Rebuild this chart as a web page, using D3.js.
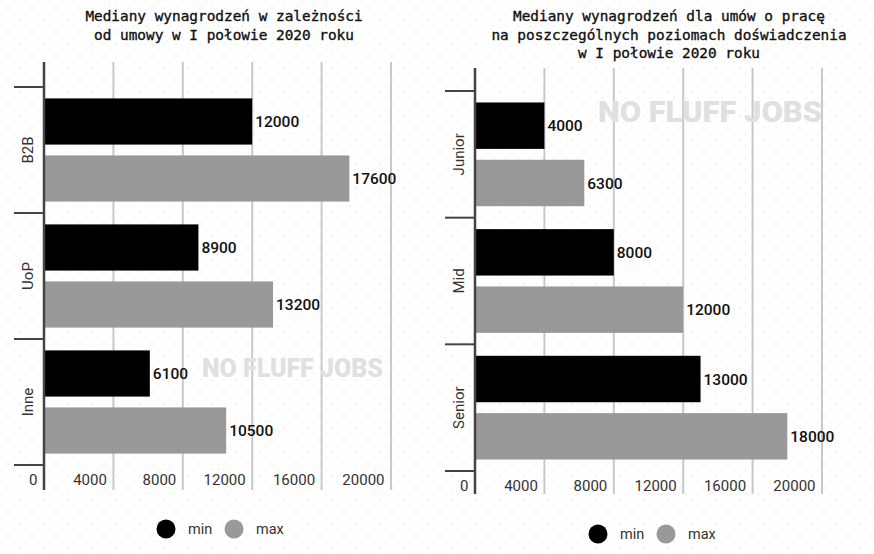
<!DOCTYPE html>
<html>
<head>
<meta charset="utf-8">
<script src="https://cdn.jsdelivr.net/npm/d3@7"></script>
<style>
  body { margin: 0; background: #fff; }
  svg { display: block; }
</style>
</head>
<body>
<svg id="chart" width="874" height="554"></svg>
<script>
const series = ["min", "max"];
const seriesColors = ["#000000", "#999999"];

const contractCategories = ["B2B", "UoP", "Inne"];
const contractMin = [12000, 8900, 6100];
const contractMax = [17600, 13200, 10500];

const levelCategories = ["Junior", "Mid", "Senior"];
const levelMin = [4000, 8000, 13000];
const levelMax = [6300, 12000, 18000];

const xTicks = [0, 4000, 8000, 12000, 16000, 20000];

const svg = d3.select("#chart");

// faint dotted background
const defs = svg.append("defs");
const pat = defs
  .append("pattern")
  .attr("id", "dots")
  .attr("width", 12)
  .attr("height", 12)
  .attr("patternUnits", "userSpaceOnUse");
pat.append("circle").attr("cx", 2).attr("cy", 2).attr("r", 1).attr("fill", "#f0f0f0");
pat.append("circle").attr("cx", 8).attr("cy", 8).attr("r", 1).attr("fill", "#f0f0f0");
svg.append("rect").attr("width", 874).attr("height", 554).attr("fill", "url(#dots)");

function drawChart(cfg) {
  const g = svg.append("g");
  const rows = cfg.categories.map((c, i) => ({
    cat: c,
    vals: [cfg.min[i], cfg.max[i]],
  }));

  const x = d3.scaleLinear().domain([0, 20000]).range([cfg.x0, cfg.x1]);
  const y = d3.scaleBand().domain(cfg.categories).range([cfg.yTop, cfg.yBottom]);
  const ySub = d3
    .scaleBand()
    .domain(series)
    .range([0, y.bandwidth()])
    .paddingInner(0.19)
    .paddingOuter(0.2);

  // title
  g.append("text")
    .attr("text-anchor", "middle")
    .attr("font-family", "DejaVu Sans Mono, monospace")
    .attr("font-size", 14.4)
    .attr("fill", "#111")
    .attr("stroke", "#111")
    .attr("stroke-width", 0.35)
    .selectAll("tspan")
    .data(cfg.title)
    .enter()
    .append("tspan")
    .attr("x", cfg.titleX)
    .attr("y", (d, i) => cfg.titleY + i * 18.5)
    .text((d) => d);

  // gridlines
  g.append("g")
    .selectAll("line")
    .data(xTicks.slice(1))
    .enter()
    .append("line")
    .attr("x1", (d) => x(d))
    .attr("x2", (d) => x(d))
    .attr("y1", cfg.gridTop)
    .attr("y2", cfg.gridBottom)
    .attr("stroke", "#c8c8c8")
    .attr("stroke-width", 2);

  // watermark
  g.append("text")
    .attr("x", cfg.wmX)
    .attr("y", cfg.wmY)
    .attr("font-family", "Roboto, sans-serif")
    .attr("font-weight", 900)
    .attr("font-size", cfg.wmSize)
    .attr("fill", "#e0e0e0")
    .attr("textLength", cfg.wmLen)
    .attr("lengthAdjust", "spacingAndGlyphs")
    .text("NO FLUFF JOBS");

  // bars
  const grp = g
    .append("g")
    .selectAll("g")
    .data(rows)
    .enter()
    .append("g")
    .attr("transform", (d) => `translate(0,${y(d.cat)})`);

  grp
    .selectAll("rect")
    .data((d) => d.vals.map((v, i) => ({ key: series[i], v })))
    .enter()
    .append("rect")
    .attr("x", x(0))
    .attr("y", (d) => ySub(d.key))
    .attr("width", (d) => x(d.v) - x(0))
    .attr("height", ySub.bandwidth())
    .attr("fill", (d, i) => seriesColors[i]);

  grp
    .selectAll("text")
    .data((d) => d.vals.map((v, i) => ({ key: series[i], v })))
    .enter()
    .append("text")
    .attr("x", (d) => x(d.v) + 3)
    .attr("y", (d) => ySub(d.key) + ySub.bandwidth() / 2)
    .attr("dy", "0.36em")
    .attr("font-family", "Roboto, sans-serif")
    .attr("font-weight", 500)
    .attr("font-size", 15.5)
    .attr("fill", "#111")
    .text((d) => d.v);

  // x axis labels
  const xAxis = g
    .append("g")
    .attr("transform", `translate(0,${cfg.yBottom})`)
    .call(d3.axisBottom(x).tickValues(xTicks).tickSize(0).tickFormat(d3.format("d")));
  xAxis.select(".domain").remove();
  xAxis
    .selectAll("text")
    .attr("text-anchor", "end")
    .attr("x", -7)
    .attr("y", cfg.tickDy)
    .attr("dy", 0)
    .attr("font-family", "Roboto, sans-serif")
    .attr("font-size", 15)
    .attr("fill", "#333");

  // category axis
  const yAxis = g
    .append("g")
    .attr("transform", `translate(${x(0)},0)`)
    .call(d3.axisLeft(y).tickSize(0).tickFormat(""));
  yAxis.select(".domain").remove();

  const bounds = cfg.categories.map((c) => y(c)).concat([cfg.yBottom]);
  g.append("g")
    .selectAll("line")
    .data(bounds)
    .enter()
    .append("line")
    .attr("x1", x(0) - 30)
    .attr("x2", x(0))
    .attr("y1", (d) => d)
    .attr("y2", (d) => d)
    .attr("stroke", "#444")
    .attr("stroke-width", 2);

  g.append("line")
    .attr("x1", x(0))
    .attr("x2", x(0))
    .attr("y1", cfg.gridTop)
    .attr("y2", cfg.gridBottom)
    .attr("stroke", "#444")
    .attr("stroke-width", 2.5);

  g.append("g")
    .selectAll("text")
    .data(cfg.categories)
    .enter()
    .append("text")
    .attr("transform", (d) => `translate(${x(0) - 11},${y(d) + y.bandwidth() / 2}) rotate(-90)`)
    .attr("text-anchor", "middle")
    .attr("font-family", "Roboto, sans-serif")
    .attr("font-size", 15)
    .attr("fill", "#333")
    .text((d) => d);

  // legend
  const leg = g
    .append("g")
    .selectAll("g")
    .data(series)
    .enter()
    .append("g")
    .attr("transform", (d, i) => `translate(${cfg.legX + i * 68},${cfg.legY})`);
  leg.append("circle").attr("r", 9.5).attr("fill", (d, i) => seriesColors[i]);
  leg
    .append("text")
    .attr("x", 22)
    .attr("dy", "0.35em")
    .attr("font-family", "Roboto, sans-serif")
    .attr("font-size", 14.5)
    .attr("fill", "#333")
    .text((d) => d);
}

drawChart({
  title: ["Mediany wynagrodzeń w zależności", "od umowy w I połowie 2020 roku"],
  titleX: 224,
  titleY: 21,
  categories: contractCategories,
  min: contractMin,
  max: contractMax,
  x0: 44,
  x1: 391,
  yTop: 87,
  yBottom: 465,
  gridTop: 62,
  gridBottom: 490,
  tickDy: 20,
  wmX: 202,
  wmY: 377,
  wmSize: 25,
  wmLen: 181,
  legX: 166,
  legY: 529,
});

drawChart({
  title: [
    "Mediany wynagrodzeń dla umów o pracę",
    "na poszczególnych poziomach doświadczenia",
    "w I połowie 2020 roku",
  ],
  titleX: 669,
  titleY: 21,
  categories: levelCategories,
  min: levelMin,
  max: levelMax,
  x0: 475,
  x1: 822,
  yTop: 91,
  yBottom: 471,
  gridTop: 68,
  gridBottom: 494,
  tickDy: 20,
  wmX: 598,
  wmY: 122,
  wmSize: 30,
  wmLen: 224,
  legX: 598,
  legY: 534,
});
</script>
</body>
</html>
